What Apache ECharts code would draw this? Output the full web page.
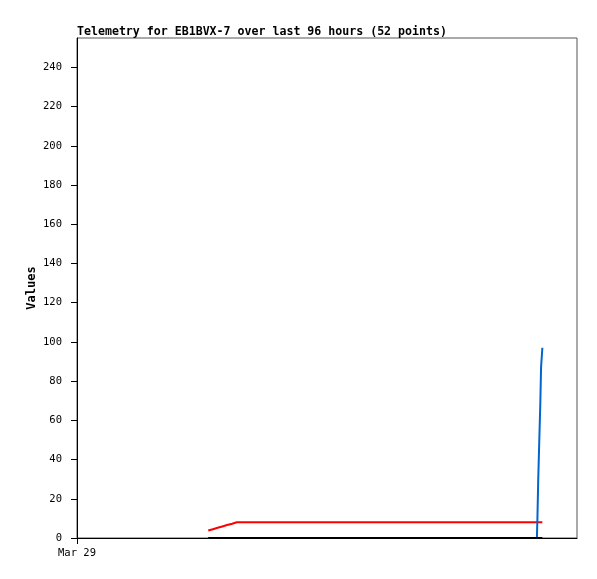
<!DOCTYPE html>
<html>
<head>
<meta charset="utf-8">
<script src="https://cdn.jsdelivr.net/npm/echarts@6/dist/echarts.min.js"></script>
<style>
html,body{margin:0;padding:0;background:#fff;}
#chart{width:597px;height:579px;}
</style>
</head>
<body>
<div id="chart"></div>
<script>
// Hours since Mar 29 00:00 (x-axis spans 96 hours)
const hours = [
  25.2, 26.1, 27.0, 27.9, 28.8, 29.8, 30.7,
  32.2, 33.7, 35.2, 36.7, 38.2, 39.7, 41.2, 42.7, 44.2, 45.7,
  47.2, 48.7, 50.2, 51.7, 53.2, 54.7, 56.2, 57.7, 59.2, 60.7,
  62.2, 63.7, 65.2, 66.7, 68.2, 69.7, 71.2, 72.7, 74.2, 75.7,
  77.2, 78.7, 80.2, 81.7, 83.2, 84.7, 86.2, 87.7,
  88.3, 88.4, 88.55, 88.75, 88.95, 89.1, 89.35
];
const redValues = [
  3.8, 4.5, 5.2, 5.9, 6.6, 7.3, 8,
  8, 8, 8, 8, 8, 8, 8, 8, 8, 8,
  8, 8, 8, 8, 8, 8, 8, 8, 8, 8,
  8, 8, 8, 8, 8, 8, 8, 8, 8, 8,
  8, 8, 8, 8, 8, 8, 8, 8,
  8, 8, 8, 8, 8, 8, 8
];
const blueValues = [
  0, 0, 0, 0, 0, 0, 0,
  0, 0, 0, 0, 0, 0, 0, 0, 0, 0,
  0, 0, 0, 0, 0, 0, 0, 0, 0, 0,
  0, 0, 0, 0, 0, 0, 0, 0, 0, 0,
  0, 0, 0, 0, 0, 0, 0, 0,
  0, 10, 29, 49, 68, 87, 97
];
const blackValues = [
  0, 0, 0, 0, 0, 0, 0,
  0, 0, 0, 0, 0, 0, 0, 0, 0, 0,
  0, 0, 0, 0, 0, 0, 0, 0, 0, 0,
  0, 0, 0, 0, 0, 0, 0, 0, 0, 0,
  0, 0, 0, 0, 0, 0, 0, 0,
  0, 0, 0, 0, 0, 0, 0
];
const xTickLabel = 'Mar 29';
const titleText = 'Telemetry for EB1BVX-7 over last 96 hours (52 points)';
const yName = 'Values';

const pair = (vals) => hours.map((h, i) => [h, vals[i]]);
const font = '"DejaVu Sans Mono", "Liberation Mono", monospace';

const chart = echarts.init(document.getElementById('chart'), null, {renderer: 'canvas'});
chart.setOption({
  animation: false,
  backgroundColor: '#fff',
  title: {
    text: titleText,
    left: 72, top: 21,
    textStyle: {fontFamily: font, fontSize: 11.6, fontWeight: 'bold', color: '#000'}
  },
  graphic: [{
    type: 'text',
    x: 32, y: 288, rotation: Math.PI / 2,
    style: {
      text: yName, fill: '#000',
      font: 'bold 12px ' + font,
      align: 'center', verticalAlign: 'middle'
    }
  }],
  grid: {
    left: 77, top: 38, width: 500, height: 500,
    show: true, borderColor: '#555', borderWidth: 1, backgroundColor: 'transparent'
  },
  xAxis: {
    type: 'value', min: 0, max: 96, interval: 96,
    axisLine: {show: true, onZero: false, lineStyle: {color: '#000', width: 1}},
    axisTick: {show: true, length: 6, customValues: [0], lineStyle: {color: '#000'}},
    axisLabel: {
      show: true, margin: 10, fontFamily: font, fontSize: 10.5, color: '#000',
      customValues: [0],
      formatter: (v) => v === 0 ? xTickLabel : ''
    },
    splitLine: {show: false}
  },
  yAxis: {
    type: 'value', min: 0, max: 255, interval: 20,
    axisLine: {show: true, lineStyle: {color: '#000', width: 1}},
    axisTick: {show: true, length: 6, lineStyle: {color: '#000'}},
    axisLabel: {
      margin: 15, fontFamily: font, fontSize: 10.5, color: '#000',
      showMaxLabel: false
    },
    splitLine: {show: false}
  },
  series: [
    {type: 'line', data: pair(redValues), showSymbol: false, z: 2,
     lineStyle: {color: '#ff0000', width: 2}, itemStyle: {color: '#ff0000'}},
    {type: 'line', data: pair(blueValues), showSymbol: false, z: 3,
     lineStyle: {color: '#0066cc', width: 2}, itemStyle: {color: '#0066cc'}},
    {type: 'line', data: pair(blackValues), showSymbol: false, z: 4,
     lineStyle: {color: '#000000', width: 2}, itemStyle: {color: '#000'}}
  ]
});
</script>
</body>
</html>
